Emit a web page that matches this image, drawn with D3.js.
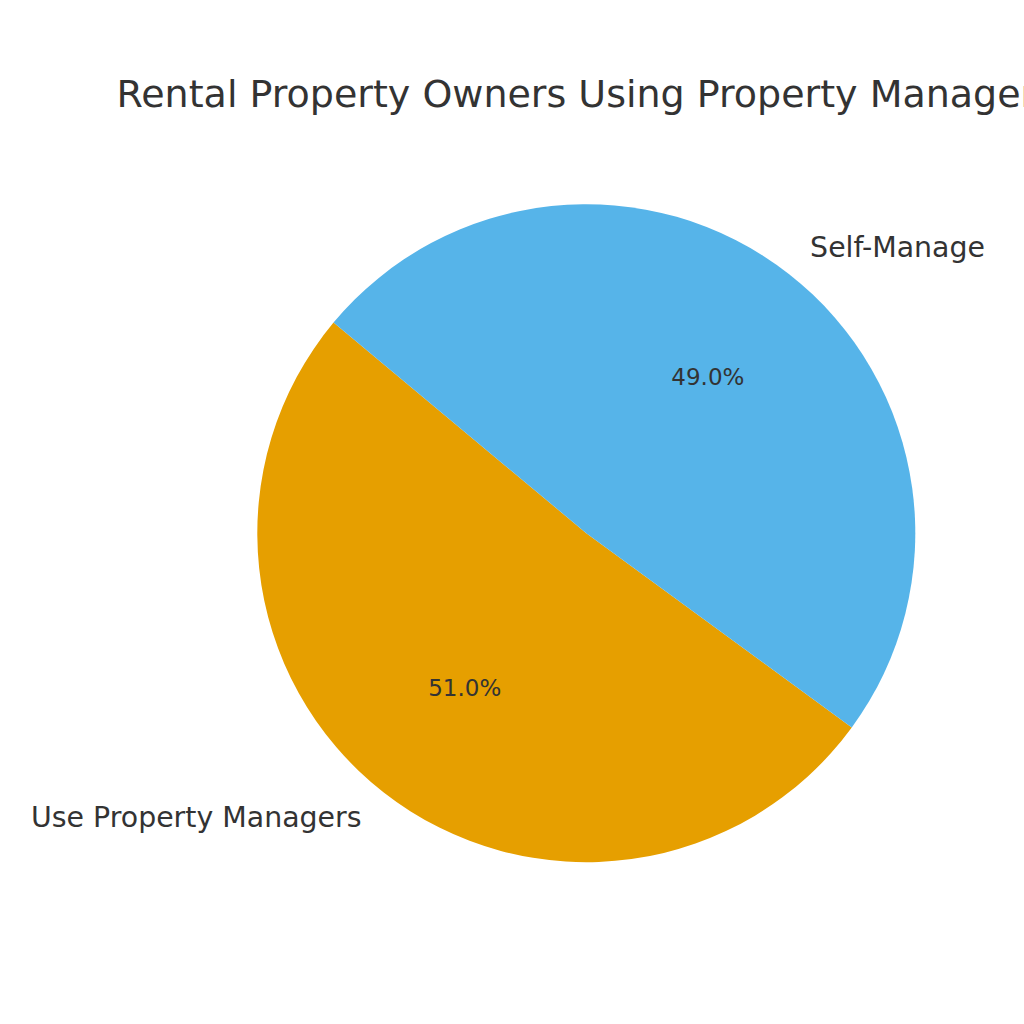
<!DOCTYPE html>
<html>
<head>
<meta charset="utf-8">
<script src="https://cdn.jsdelivr.net/npm/d3@7"></script>
<style>
  html, body { margin: 0; padding: 0; background: #fff; }
  svg { display: block; font-family: "DejaVu Sans", sans-serif; }
</style>
</head>
<body>
<div id="chart"></div>
<script>
// chart data
const categories = ["Use Property Managers", "Self-Manage"];
const shares = [51, 49];
const sliceColors = ["#E69F00", "#56B4E9"];
const chartTitle = "Rental Property Owners Using Property Managers";

const width = 1024, height = 1024;
const cx = 586.3, cy = 533.2, radius = 329;
// matplotlib-style start angle (deg, ccw from 3 o'clock)
const startDeg = 140.2;

const svg = d3.select("#chart").append("svg")
    .attr("width", width)
    .attr("height", height);

svg.append("rect").attr("width", width).attr("height", height).attr("fill", "#fff");

// title is centred over the pie, so it runs past the right edge like the original
svg.append("text")
    .attr("x", cx)
    .attr("y", 107)
    .attr("text-anchor", "middle")
    .style("font-size", "38px")
    .style("fill", "#333")
    .text(chartTitle);

const data = categories.map((c, i) => ({ name: c, value: shares[i], color: sliceColors[i] }));

// d3 angles run clockwise from 12 o'clock, so go the negative way
const a0 = (90 - startDeg) * Math.PI / 180;
const pie = d3.pie()
    .sort(null)
    .value(d => d.value)
    .startAngle(a0)
    .endAngle(a0 - 2 * Math.PI);

const arcs = pie(data);

const arc = d3.arc().innerRadius(0).outerRadius(radius);
const labelArc = d3.arc().innerRadius(radius * 1.1).outerRadius(radius * 1.1);
const pctArc = d3.arc().innerRadius(radius * 0.6).outerRadius(radius * 0.6);

const g = svg.append("g").attr("transform", "translate(" + cx + "," + cy + ")");

g.selectAll("path.slice")
    .data(arcs)
    .enter().append("path")
    .attr("class", "slice")
    .attr("d", arc)
    .attr("fill", d => d.data.color);

g.selectAll("text.label")
    .data(arcs)
    .enter().append("text")
    .attr("class", "label")
    .attr("transform", d => "translate(" + labelArc.centroid(d) + ")")
    .attr("dx", d => labelArc.centroid(d)[0] > 0 ? 1 : -2)
    .attr("dy", "0.3em")
    .attr("text-anchor", d => labelArc.centroid(d)[0] > 0 ? "start" : "end")
    .style("font-size", "28.4px")
    .style("fill", "#333")
    .text(d => d.data.name);

const total = d3.sum(shares);
g.selectAll("text.pct")
    .data(arcs)
    .enter().append("text")
    .attr("class", "pct")
    .attr("transform", d => "translate(" + pctArc.centroid(d) + ")")
    .attr("dy", "0.3em")
    .attr("text-anchor", "middle")
    .style("font-size", "23px")
    .style("fill", "#333")
    .text(d => (d.data.value / total * 100).toFixed(1) + "%");
</script>
</body>
</html>
